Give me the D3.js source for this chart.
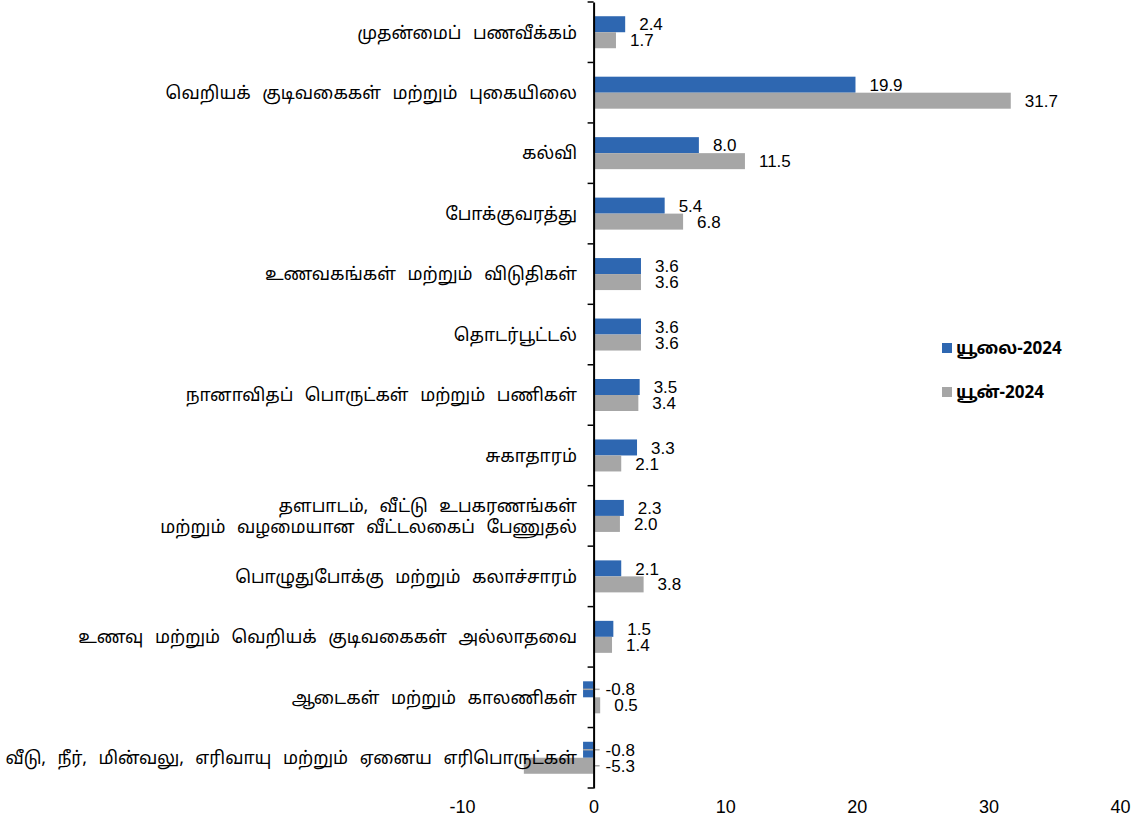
<!DOCTYPE html>
<html>
<head>
<meta charset="utf-8">
<script src="https://cdn.jsdelivr.net/npm/d3@7"></script>
<style>
  body { margin: 0; background: #fff; }
  svg { display: block; }
  text { fill: #000; }
</style>
</head>
<body>
<svg width="1145" height="829"></svg>
<script>
const svg = d3.select("svg");

// categories, top to bottom (two-line label split with \n)
const categories = [
  "முதன்மைப் பணவீக்கம்",
  "வெறியக் குடிவகைகள் மற்றும் புகையிலை",
  "கல்வி",
  "போக்குவரத்து",
  "உணவகங்கள் மற்றும் விடுதிகள்",
  "தொடர்பூட்டல்",
  "நானாவிதப் பொருட்கள் மற்றும் பணிகள்",
  "சுகாதாரம்",
  "தளபாடம், வீட்டு உபகரணங்கள்\nமற்றும் வழமையான வீட்டலகைப் பேணுதல்",
  "பொழுதுபோக்கு மற்றும் கலாச்சாரம்",
  "உணவு மற்றும் வெறியக் குடிவகைகள் அல்லாதவை",
  "ஆடைகள் மற்றும் காலணிகள்",
  "வீடு, நீர், மின்வலு, எரிவாயு மற்றும் ஏனைய எரிபொருட்கள்"
];
const seriesNames = ["யூலை-2024", "யூன்-2024"];
const july = [2.4, 19.9, 8.0, 5.4, 3.6, 3.6, 3.5, 3.3, 2.3, 2.1, 1.5, -0.8, -0.8];
const june = [1.7, 31.7, 11.5, 6.8, 3.6, 3.6, 3.4, 2.1, 2.0, 3.8, 1.4, 0.5, -5.3];
const xTicks = [-10, 0, 10, 20, 30, 40];
const colors = ["#2E67B1", "#A6A6A6"];

const x = d3.scaleLinear().domain([-10, 40]).range([462, 1120]);
const y = d3.scaleBand().domain(categories).range([2, 788]);
const groupH = 32;
const ySub = d3.scaleBand().domain(seriesNames).range([0, groupH]);

const fmt = v => v.toFixed(1); // plain hyphen minus like the original

const rows = categories.map((c, i) => ({cat: c, vals: [july[i], june[i]]}));

// bars
const g = svg.append("g");
const rowG = g.selectAll("g.row")
  .data(rows)
  .join("g")
  .attr("class", "row")
  .attr("transform", d => `translate(0,${y(d.cat) + (y.bandwidth() - groupH) / 2})`);

rowG.selectAll("rect")
  .data(d => d.vals.map((v, k) => ({v, k})))
  .join("rect")
  .attr("x", d => x(Math.min(0, d.v)))
  .attr("y", d => ySub(seriesNames[d.k]))
  .attr("width", d => Math.abs(x(d.v) - x(0)))
  .attr("height", ySub.bandwidth())
  .attr("fill", d => colors[d.k]);

// value labels
const labelX = d => d.v >= 0 ? x(d.v) + 14 : x(0) + 12;
rowG.selectAll("line.leader")
  .data(d => d.vals.map((v, k) => ({v, k})).filter(e => e.v < 0 && labelX(e) - 6 - x(e.v) > 12))
  .join("line")
  .attr("class", "leader")
  .attr("x1", d => x(d.v))
  .attr("x2", d => labelX(d) - 6)
  .attr("y1", d => ySub(seriesNames[d.k]) + ySub.bandwidth() / 2)
  .attr("y2", d => ySub(seriesNames[d.k]) + ySub.bandwidth() / 2)
  .attr("stroke", "#A6A6A6")
  .attr("stroke-width", 1.5);

rowG.selectAll("text.val")
  .data(d => d.vals.map((v, k) => ({v, k})))
  .join("text")
  .attr("class", "val")
  .attr("x", labelX)
  .attr("y", d => ySub(seriesNames[d.k]) + ySub.bandwidth() / 2)
  .attr("dy", "0.36em")
  .attr("font-family", "'Liberation Sans', Arial, sans-serif")
  .attr("font-size", 17)
  .text(d => fmt(d.v));

// vertical axis at zero with ticks on the left
const yAxis = d3.axisLeft(y).tickSize(0).tickFormat("");
const axG = svg.append("g").attr("transform", `translate(${x(0)},0)`).call(yAxis);
axG.select(".domain").attr("stroke", "#000").attr("stroke-width", 2);
axG.selectAll(".tick").remove();
axG.selectAll("line.sep")
  .data(d3.range(categories.length + 1))
  .join("line")
  .attr("class", "sep")
  .attr("x1", -6).attr("x2", 0)
  .attr("y1", i => 2 + i * y.step())
  .attr("y2", i => 2 + i * y.step())
  .attr("stroke", "#000")
  .attr("stroke-width", 1.5);

// category labels
svg.append("g").selectAll("text")
  .data(categories)
  .join("text")
  .attr("x", 577)
  .attr("y", d => y(d) + y.bandwidth() / 2)
  .attr("text-anchor", "end")
  .attr("font-family", "'Noto Sans Tamil', 'Latha', 'Lohit Tamil', 'Noto Sans', sans-serif")
  .attr("font-size", 17.5)
  .attr("word-spacing", 7)
  .each(function(d) {
    const lines = d.split("\n");
    const t = d3.select(this);
    lines.forEach((ln, j) => {
      t.append("tspan")
        .attr("x", 577)
        .attr("dy", j === 0 ? `${0.36 - (lines.length - 1) * 0.6}em` : "1.2em")
        .text(ln);
    });
  });

// x axis labels (no line)
const xAxis = d3.axisBottom(x).tickValues(xTicks).tickSize(0).tickPadding(0)
  .tickFormat(d => String(d));
const xg = svg.append("g").attr("transform", "translate(0,800)").call(xAxis);
xg.select(".domain").remove();
xg.selectAll("text")
  .attr("font-family", "'Liberation Sans', Arial, sans-serif")
  .attr("font-size", 18)
  .attr("fill", "#000");

// legend
const leg = svg.append("g").attr("transform", "translate(942,348)");
const li = leg.selectAll("g")
  .data(seriesNames)
  .join("g")
  .attr("transform", (d, i) => `translate(0,${i * 44})`);
li.append("rect")
  .attr("x", 0).attr("y", -5).attr("width", 10).attr("height", 10)
  .attr("fill", (d, i) => colors[i]);
li.append("text")
  .attr("x", 14).attr("y", 0).attr("dy", "0.36em")
  .attr("font-family", "'Noto Sans Tamil', 'Liberation Sans', sans-serif")
  .attr("font-weight", "bold")
  .attr("font-size", 17)
  .text(d => d);
</script>
</body>
</html>
